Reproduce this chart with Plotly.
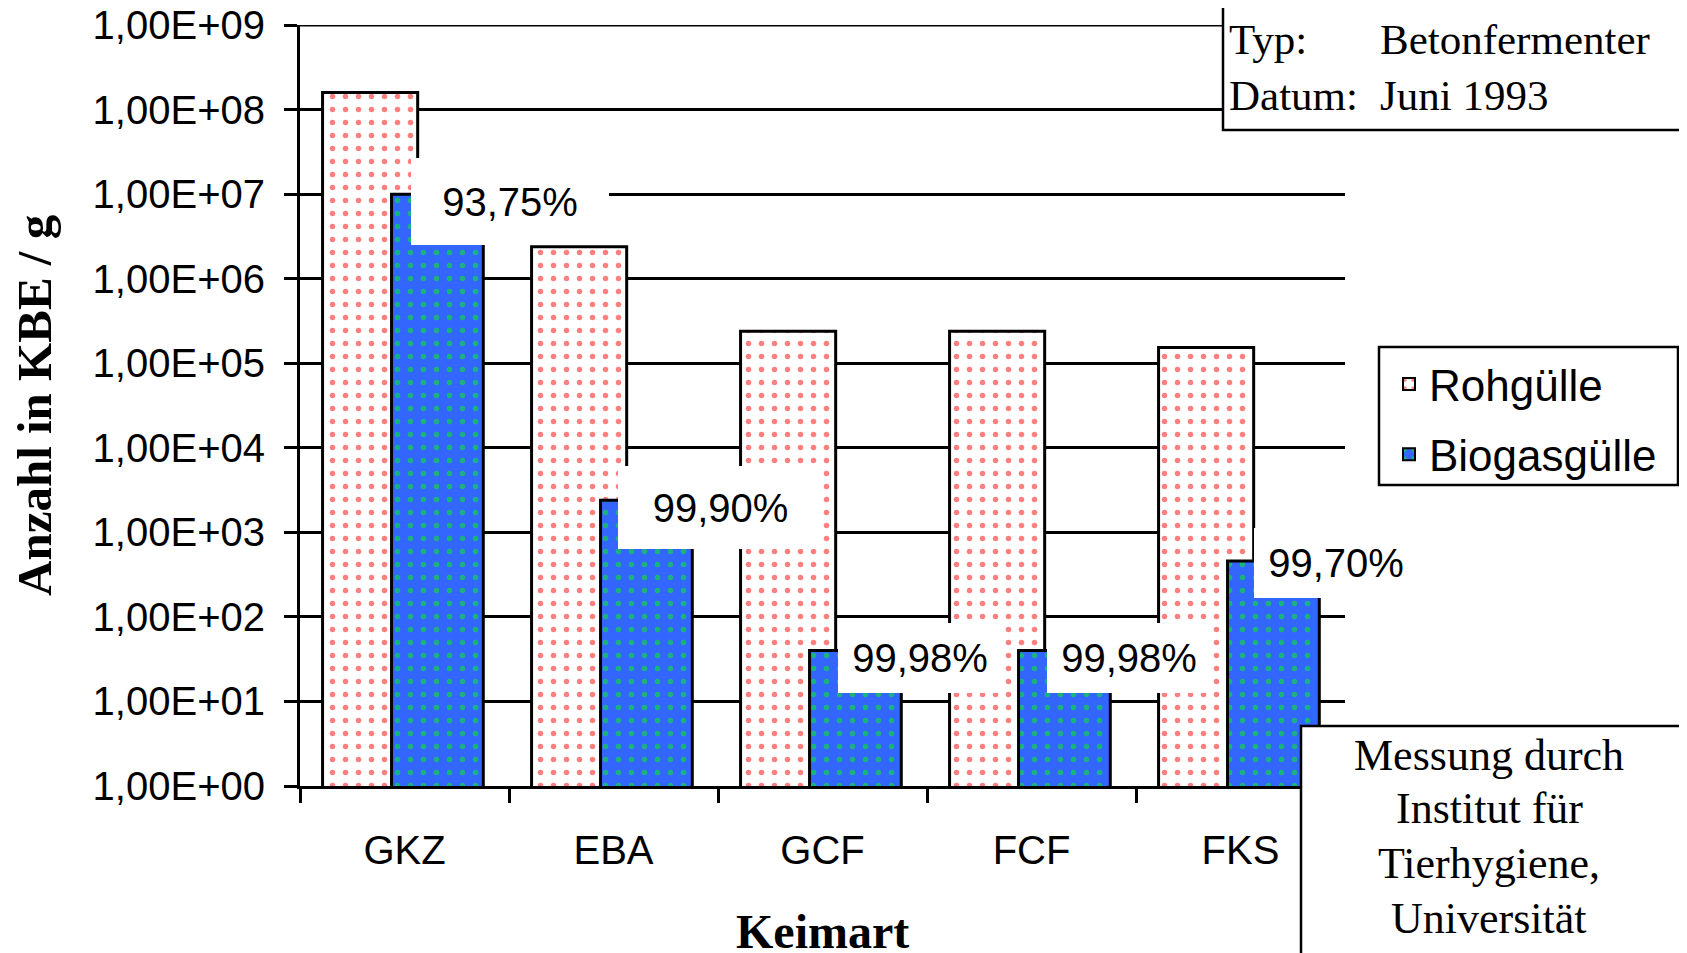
import plotly.graph_objects as go
import math

# ---------------- data ----------------
categories = ["GKZ", "EBA", "GCF", "FCF", "FKS"]
rohguelle = [1.6e8, 2.4e6, 2.4e5, 2.4e5, 1.54e5]
biogasguelle = [1.0e7, 2.4e3, 40, 40, 4.6e2]
ytick_values = [1e0, 1e1, 1e2, 1e3, 1e4, 1e5, 1e6, 1e7, 1e8, 1e9]
ytick_labels = ["1,00E+00", "1,00E+01", "1,00E+02", "1,00E+03", "1,00E+04",
                "1,00E+05", "1,00E+06", "1,00E+07", "1,00E+08", "1,00E+09"]
info_top = [("Typ:", "Betonfermenter"), ("Datum:", "Juni 1993")]
info_bottom = ["Messung durch", "Institut für", "Tierhygiene,", "Universität"]

# ---------------- styles / layout ----------------
VW, VH = 1687, 953          # browser viewport
BODY = 8                    # default page body margin
W, H = VW - BODY, VH - BODY  # figure size so it fits the viewport
PL, PR, PT, PB = 300, 1345, 25, 786   # plot area in screen pixels
SANS = "Liberation Sans, Arial, sans-serif"
SERIF = "Liberation Serif, Times New Roman, serif"

ROH_OFFSET, ROH_WIDTH = -0.392, 0.455
BIO_OFFSET, BIO_WIDTH = -0.062, 0.439
label_dx = [105, 107, 97, 97, 95]
label_dy = [7, 7, 7, 7, 2.5]
label_box_w = [198, 205, 164, 164, 164]
label_box_h = [87, 83, 70, 70, 70]


def px(x):
    return (x - PL) / (PR - PL)


def py(y):
    return 1 - (y - PT) / (PB - PT)


fig = go.Figure()
fig.add_trace(go.Bar(
    name="Rohgülle", x=categories, y=rohguelle,
    offset=ROH_OFFSET, width=ROH_WIDTH,
    marker=dict(color="white", line=dict(color="black", width=3),
                pattern=dict(shape=".", fgcolor="#FF0000", bgcolor="white",
                             size=13, solidity=0.14, fillmode="overlay")),
    legendgroup="a",
))
fig.add_trace(go.Bar(
    name="Biogasgülle", x=categories, y=biogasguelle,
    offset=BIO_OFFSET, width=BIO_WIDTH,
    marker=dict(color="#3366FF", line=dict(color="black", width=3),
                pattern=dict(shape=".", fgcolor="#00FF00", bgcolor="#3366FF",
                             size=13, solidity=0.14, fillmode="overlay")),
    legendgroup="b",
))

annotations = []
# percentage labels
for i, c in enumerate(categories):
    pct = (1 - biogasguelle[i] / rohguelle[i]) * 100
    txt = f"{pct:.2f}".replace(".", ",") + "%"
    annotations.append(dict(
        x=c, y=math.log10(biogasguelle[i]), xref="x", yref="y",
        text=txt, showarrow=False, xanchor="center", yanchor="middle",
        xshift=label_dx[i], yshift=-label_dy[i],
        width=label_box_w[i], height=label_box_h[i],
        bgcolor="white", borderwidth=0, borderpad=0,
        align="center", valign="middle",
        font=dict(family=SANS, size=40, color="black"),
    ))

# axis titles
annotations.append(dict(
    x=px(822), y=py(931), xref="paper", yref="paper", text="<b>Keimart</b>",
    showarrow=False, xanchor="center", yanchor="middle",
    font=dict(family=SERIF, size=48, color="black")))
annotations.append(dict(
    x=px(34), y=py(405), xref="paper", yref="paper", text="<b>Anzahl in KBE / g</b>",
    showarrow=False, xanchor="center", yanchor="middle", textangle=-90,
    font=dict(family=SERIF, size=49, color="black")))

# top right info box
top_centers = [40, 96]
for (lab, val), yc in zip(info_top, top_centers):
    annotations.append(dict(x=px(1227), y=py(yc), xref="paper", yref="paper", text=lab,
                            showarrow=False, xanchor="left", yanchor="middle",
                            font=dict(family=SERIF, size=43, color="black")))
    annotations.append(dict(x=px(1378), y=py(yc), xref="paper", yref="paper", text=val,
                            showarrow=False, xanchor="left", yanchor="middle",
                            font=dict(family=SERIF, size=43, color="black")))

# bottom right info box
bottom_baselines = [770, 823, 878, 933]
for line, bl in zip(info_bottom, bottom_baselines):
    annotations.append(dict(x=px(1489), y=py(bl - 0.3375 * 44), xref="paper", yref="paper",
                            text=line, showarrow=False, xanchor="center", yanchor="middle",
                            font=dict(family=SERIF, size=44, color="black")))

shapes = [
    # top grid line (at the upper edge of the value axis)
    dict(type="line", xref="paper", yref="y", x0=0, x1=1,
         y0=ytick_values[-1], y1=ytick_values[-1],
         line=dict(color="black", width=2.5), layer="below"),
    dict(type="rect", xref="paper", yref="paper", x0=px(1223), x1=px(1681),
         y0=py(-30), y1=py(130), line=dict(color="black", width=2.5),
         fillcolor="white", layer="above"),
    dict(type="rect", xref="paper", yref="paper", x0=px(1301), x1=px(1681),
         y0=py(726), y1=py(1000), line=dict(color="black", width=2.5),
         fillcolor="white", layer="above"),
    # legend frame
    dict(type="rect", xref="paper", yref="paper", x0=px(1379), x1=px(1678),
         y0=py(347), y1=py(485), line=dict(color="black", width=2.5),
         fillcolor="white", layer="above"),
]

fig.update_layout(
    width=W, height=H, autosize=False,
    margin=dict(l=PL - BODY, r=VW - PR, t=PT - BODY, b=VH - PB, pad=0, autoexpand=False),
    paper_bgcolor="white", plot_bgcolor="white",
    barmode="overlay",
    showlegend=True,
    legend=dict(x=px(1389), y=py(349), xanchor="left", yanchor="top",
                bgcolor="rgba(0,0,0,0)", borderwidth=0,
                font=dict(family=SANS, size=44, color="black"),
                tracegroupgap=10, itemsizing="constant"),
    annotations=annotations,
    shapes=shapes,
    font=dict(family=SANS, color="black"),
)
fig.update_xaxes(
    type="category", range=[-0.5, 4.5], automargin=False,
    showline=True, linecolor="black", linewidth=3,
    ticks="outside", tickson="boundaries", ticklen=14, tickwidth=2.5, tickcolor="black",
    showgrid=False, zeroline=False,
    tickfont=dict(family=SANS, size=40, color="black"),
    ticklabelstandoff=27,
)
fig.update_yaxes(
    type="log", range=[0, 9.003], automargin=False,
    tickvals=ytick_values, ticktext=ytick_labels,
    ticklabeloverflow="allow",
    showline=True, linecolor="black", linewidth=3,
    ticks="outside", ticklen=13, tickwidth=2.5, tickcolor="black",
    showgrid=True, gridcolor="black", gridwidth=2.5,
    zeroline=False,
    tickfont=dict(family=SANS, size=40, color="black"),
    ticklabelstandoff=11,
)

fig.write_html("out.html")
